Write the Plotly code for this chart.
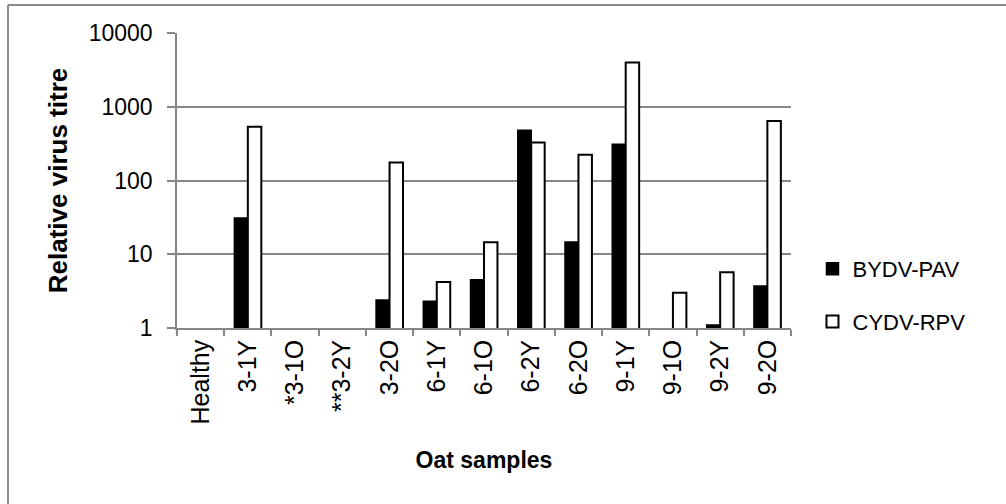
import plotly.graph_objects as go

categories = ["Healthy", "3-1Y", "*3-1O", "**3-2Y", "3-2O", "6-1Y", "6-1O",
              "6-2Y", "6-2O", "9-1Y", "9-1O", "9-2Y", "9-2O"]
bydv_pav = [None, 31, None, None, 2.4, 2.3, 4.5, 480, 14.7, 310, None, 1.1, 3.7]
cydv_rpv = [None, 535, None, None, 175, 4.2, 14.5, 327, 224, 3990, 3.0, 5.7, 640]
y_ticks = [1, 10, 100, 1000, 10000]

FONT = "Liberation Sans, Arial, sans-serif"
GRID = "#868686"

fig = go.Figure()
fig.add_trace(go.Bar(x=categories, y=bydv_pav, name="BYDV-PAV",
                     marker=dict(color="black", line=dict(color="black", width=1.5)),
                     legendgroup="a"))
fig.add_trace(go.Bar(x=categories, y=cydv_rpv, name="CYDV-RPV",
                     marker=dict(color="white", line=dict(color="black", width=2)),
                     legendgroup="b"))

fig.update_layout(
    width=1006, height=504,
    margin=dict(l=177, r=215, t=33, b=176),
    paper_bgcolor="white", plot_bgcolor="white",
    barmode="group", bargap=0.43, bargroupgap=0,
    font=dict(family=FONT, color="black"),
    showlegend=True,
    legend=dict(x=1.035, y=0.11, xanchor="left", yanchor="middle",
                font=dict(size=22, family=FONT), tracegroupgap=21,
                bgcolor="rgba(0,0,0,0)"),
    xaxis=dict(
        type="category", tickangle=-90, tickson="boundaries",
        ticks="outside", ticklen=6, tickcolor=GRID, tickwidth=1.5,
        showline=True, linecolor=GRID, linewidth=1.5,
        showgrid=False,
        tickfont=dict(size=25, family=FONT),
        title=dict(text="<b>Oat samples</b>", font=dict(size=23, family=FONT), standoff=28),
    ),
    yaxis=dict(
        type="log", range=[0, 4], tickvals=y_ticks,
        ticktext=[str(v) for v in y_ticks],
        ticks="outside", ticklen=8, tickcolor=GRID, tickwidth=1.5,
        showline=True, linecolor=GRID, linewidth=1.5,
        showgrid=True, gridcolor=GRID, gridwidth=1.5,
        tickfont=dict(size=23, family=FONT), ticklabelstandoff=10,
        title=dict(text="<b>Relative virus titre</b>", font=dict(size=26, family=FONT), standoff=14),
    ),
    shapes=[
        dict(type="line", xref="paper", yref="paper",
             x0=(8 - 177) / 614, x1=1.36, y0=(328 - 5) / 295, y1=(328 - 5) / 295,
             line=dict(color="#8c8c8c", width=2)),
        dict(type="line", xref="paper", yref="paper",
             x0=(8 - 177) / 614, x1=(8 - 177) / 614, y0=(328 - 5) / 295, y1=-0.7,
             line=dict(color="#8c8c8c", width=2)),
    ],
)

fig.write_html("out.html", config={"displayModeBar": False},
               post_script="document.body.style.margin='0';")
